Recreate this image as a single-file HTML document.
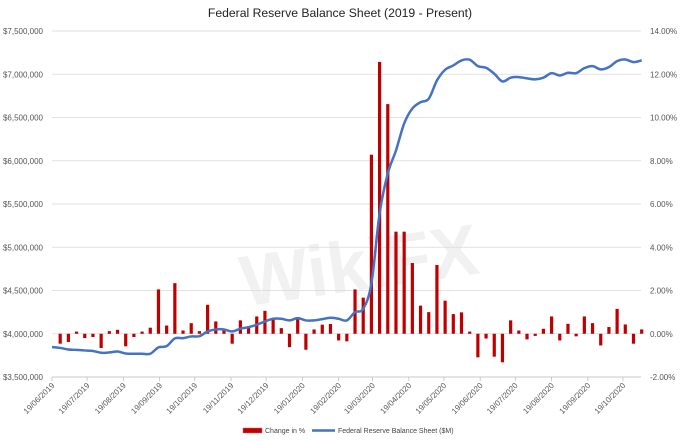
<!DOCTYPE html>
<html><head><meta charset="utf-8"><style>
html,body{margin:0;padding:0;background:#fff;}
svg{display:block;font-family:"Liberation Sans",sans-serif;}
</style></head><body>
<svg id="chart" width="680" height="441" viewBox="0 0 680 441">
<text x="340" y="17" text-anchor="middle" font-size="12.2" fill="#222">Federal Reserve Balance Sheet  (2019 - Present)</text>
<text x="360" y="290" text-anchor="middle" font-size="72" font-weight="bold" fill="#000" opacity="0.05" transform="rotate(-8 360 270)">WikiFX</text>
<g id="grid"></g><g id="bars"></g><g id="line"></g><g id="axes"></g>
<g>
<rect x="243" y="428" width="19" height="5" fill="#c00000" stroke="#e06060" stroke-width="0.5"/>
<text x="265" y="433" font-size="7" fill="#444">Change in %</text>
<line x1="312" y1="430.5" x2="335" y2="430.5" stroke="#4472c4" stroke-width="2.5"/>
<text x="338" y="433" font-size="7" fill="#444">Federal Reserve Balance Sheet ($M)</text>
</g>
</svg>
<script>
const leftTicks=[3500000,4000000,4500000,5000000,5500000,6000000,6500000,7000000,7500000];
const rightTicks=[-2,0,2,4,6,8,10,12,14];
const monthLabels=["19/06/2019","19/07/2019","19/08/2019","19/09/2019","19/10/2019","19/11/2019","19/12/2019","19/01/2020","19/02/2020","19/03/2020","19/04/2020","19/05/2020","19/06/2020","19/07/2020","19/08/2020","19/09/2020","19/10/2020"];
const changePct=[-0.46,-0.38,0.1,-0.2,-0.15,-0.66,0.12,0.18,-0.58,-0.15,0.1,0.28,2.05,0.38,2.34,0.15,0.49,0.12,1.34,0.57,0.18,-0.46,0.62,0.35,0.8,1.06,0.66,0.26,-0.62,0.66,-0.74,0.2,0.42,0.45,-0.31,-0.35,2.05,1.67,8.28,12.57,10.62,4.72,4.72,3.27,1.3,1.0,3.18,1.53,0.91,0.99,0.1,-1.09,-0.22,-1.06,-1.32,0.62,0.15,-0.26,-0.1,0.23,0.8,-0.31,0.46,-0.12,0.8,0.49,-0.54,0.31,1.15,0.43,-0.46,0.2];
const balance=[3845000,3836000,3818000,3813000,3807000,3801000,3780000,3784000,3795000,3772000,3769000,3769000,3769000,3842000,3857000,3946000,3949000,3969000,3972000,4027000,4050000,4050000,4027000,4058000,4076000,4104000,4142000,4173000,4173000,4154000,4180000,4154000,4154000,4169000,4185000,4173000,4154000,4250000,4289000,4582000,5391000,5853000,6119000,6431000,6604000,6677000,6717000,6928000,7052000,7102000,7160000,7168000,7094000,7075000,7006000,6917000,6960000,6967000,6952000,6941000,6960000,7013000,6986000,7017000,7013000,7071000,7094000,7056000,7082000,7152000,7171000,7140000,7160000];
const NS="http://www.w3.org/2000/svg";
const X0=52,WK=8.19,YT=31,YB=377;
const yL=v=>YB-(v-3500000)/4000000*(YB-YT);
const yR=p=>YB-(p+2)/16*(YB-YT);
const xW=i=>X0+i*WK;
function mk(tag,attrs,parent){const e=document.createElementNS(NS,tag);for(const k in attrs)e.setAttribute(k,attrs[k]);document.getElementById(parent).appendChild(e);return e;}
leftTicks.forEach((v,i)=>{const y=yL(v);
 const g=mk('line',{x1:X0,x2:641,y1:y,y2:y,stroke:'#d9d9d9','stroke-width':0.8},'grid');
 
 
 const t=mk('text',{x:43,y:y+3,'text-anchor':'end','font-size':8,fill:'#555'},'axes');
 t.textContent='$'+v.toLocaleString('en-US');
 
 
 const r=mk('text',{x:650,y:yR(rightTicks[i])+3,'font-size':8,fill:'#555'},'axes');
 r.textContent=rightTicks[i].toFixed(2)+'%';
 
 
});
const ax=mk('line',{x1:X0,x2:641,y1:YB,y2:YB,stroke:'#bfbfbf','stroke-width':0.8},'axes');


const start=Date.UTC(2019,5,19);
monthLabels.forEach(s=>{const p=s.split('/');const d=Date.UTC(+p[2],+p[1]-1,+p[0]);
 const x=X0+(d-start)/864e5*WK/7;
 const tk=mk('line',{x1:x,x2:x,y1:YB,y2:YB+4,stroke:'#bfbfbf','stroke-width':0.8},'axes');
 
 
 const t=mk('text',{x:x+3,y:YB+9,'text-anchor':'end','font-size':8,fill:'#555',transform:`rotate(-45 ${x+3} ${YB+9})`},'axes');
 t.textContent=s;
 
 
});
const y0=yR(0);
changePct.forEach((v,i)=>{const x=xW(i+1);const y=yR(v);
 const b=mk('rect',{x:x-1.6,y:Math.min(y,y0),width:3.2,height:Math.abs(y-y0),fill:'#c00000'},'bars');
 
 
});
const pts=balance.map((v,i)=>[xW(i),yL(v)]);
let d='M'+pts[0][0]+','+pts[0][1];
for(let i=0;i<pts.length-1;i++){const p0=pts[Math.max(0,i-1)],p1=pts[i],p2=pts[i+1],p3=pts[Math.min(pts.length-1,i+2)];
 const c1=[p1[0]+(p2[0]-p0[0])/6,p1[1]+(p2[1]-p0[1])/6],c2=[p2[0]-(p3[0]-p1[0])/6,p2[1]-(p3[1]-p1[1])/6];
 d+=` C${c1[0].toFixed(2)},${c1[1].toFixed(2)} ${c2[0].toFixed(2)},${c2[1].toFixed(2)} ${p2[0].toFixed(2)},${p2[1].toFixed(2)}`;}
const ln=mk('path',{d:d,fill:'none',stroke:'#4472c4','stroke-width':2.5,'stroke-linejoin':'round'},'line');


</script>
</body></html>
